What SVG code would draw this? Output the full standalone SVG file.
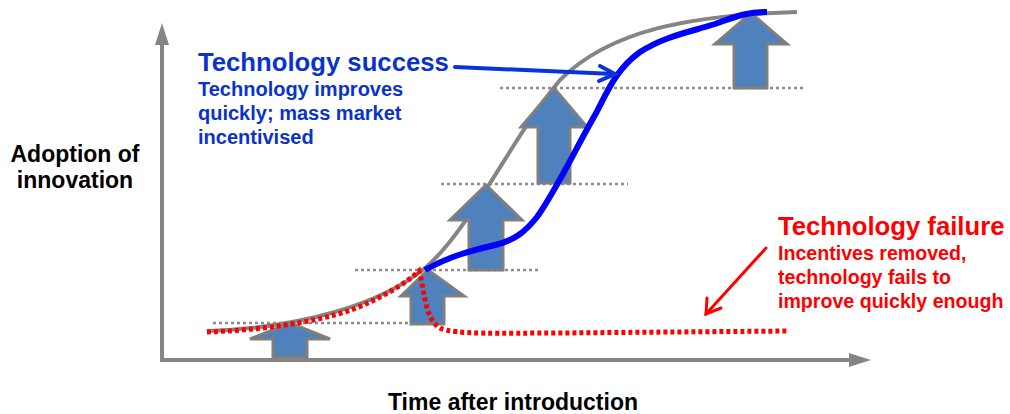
<svg xmlns="http://www.w3.org/2000/svg" width="1010" height="414" viewBox="0 0 1010 414">
  <defs>
    <style>
      .axis { stroke: #858585; stroke-width: 4; fill: none; }
      .axis-head { fill: #858585; }
      .level { stroke: #8c8c8c; stroke-width: 2.5; stroke-dasharray: 3 3; fill: none; }
      .step { fill: #4f81bd; stroke: #7f7f7f; stroke-width: 3; stroke-linejoin: miter; }
      .trend { stroke: #858585; stroke-width: 4; fill: none; }
      .success { stroke: #0000ff; stroke-width: 6; fill: none; stroke-linecap: butt; }
      .failure { stroke: #ff0000; stroke-width: 5; fill: none; stroke-dasharray: 4 3; }
      .lbl { font-family: "Liberation Sans", Arial, sans-serif; font-weight: bold; }
      .axis-lbl { fill: #000000; font-size: 23px; }
      .blue-t { fill: #0a33cc; }
      .red-t { fill: #ff0000; }
    </style>
  </defs>

  <!-- axes -->
  <g id="axes">
    <path class="axis" d="M162,44 V360 H850"/>
    <path class="axis-head" d="M162,23 L169,45 L155,45 Z"/>
    <path class="axis-head" d="M871,360 L849,353 L849,367 Z"/>
  </g>

  <!-- dotted performance levels -->
  <g id="levels">
    <line class="level" x1="213" y1="323" x2="410" y2="323"/>
    <line class="level" x1="355" y1="270" x2="540" y2="270"/>
    <line class="level" x1="441" y1="184" x2="628" y2="184"/>
    <line class="level" x1="500" y1="88" x2="804" y2="88"/>
  </g>

  <!-- expected S-curve -->
  <g id="s-curve">
    <path class="trend" d="M207,331 C300,328 380,305 425,268 C470,230 510,140 560,80 C610,30 690,15 797,12"/>
  </g>

  <!-- improvement steps -->
  <g id="step-1"><path class="step" d="M290,323 L330,339 L307,339 L307,357 L273,357 L273,339 L250,339 Z"/></g>
  <g id="step-2"><path class="step" d="M428,270 L464,296 L444,296 L444,324 L411,324 L411,296 L401,296 Z"/></g>
  <g id="step-3"><path class="step" d="M486,185 L522,220 L503,220 L503,270 L469,270 L469,220 L450,220 Z"/></g>
  <g id="step-4"><path class="step" d="M554,88 L587,127 L570,127 L570,183 L538,183 L538,127 L521,127 Z"/></g>
  <g id="step-5"><path class="step" d="M751,13 L787,44 L767,44 L767,88 L734,88 L734,44 L715,44 Z"/></g>

  <!-- outcome curves -->
  <g id="connectors">
    <path class="success" d="M425,270 C450,256 470,251 495,245 C515,240 525,232 537,217 C555,192 575,150 595,115 C607,93 615,70 640,52 C665,36 690,32 715,24 C735,17 745,12 767,12"/>
    <path class="failure" d="M207,332 C260,330 330,322 370,302 C395,290 408,281 419,271 C425,290 424,318 440,328 C455,335 500,333 560,333 L787,331"/>
    <g stroke="#0a33dd" stroke-width="4" fill="none" stroke-linecap="round">
      <line x1="455" y1="67" x2="614" y2="74"/>
      <polyline points="600,66 615,74 599,81"/>
    </g>
    <g stroke="#ff0000" stroke-width="3" fill="none" stroke-linecap="round">
      <line x1="766" y1="248" x2="706" y2="314"/>
      <polyline points="707,298 706,314 721,308"/>
    </g>
  </g>

  <!-- labels -->
  <g id="axis-labels" class="lbl axis-lbl">
    <text x="75" y="162" text-anchor="middle">Adoption of</text>
    <text x="75" y="188" text-anchor="middle">innovation</text>
    <text x="513" y="410" text-anchor="middle">Time after introduction</text>
  </g>

  <g id="success-label" class="lbl blue-t">
    <text x="198" y="71" font-size="25.7">Technology success</text>
    <text x="198" y="96" font-size="20">Technology improves</text>
    <text x="198" y="120" font-size="20">quickly; mass market</text>
    <text x="198" y="144" font-size="20">incentivised</text>
  </g>

  <g id="failure-label" class="lbl red-t">
    <text x="778" y="235" font-size="25.7">Technology failure</text>
    <text x="778" y="260" font-size="19.6">Incentives removed,</text>
    <text x="778" y="284" font-size="19.6">technology fails to</text>
    <text x="778" y="308" font-size="19.6">improve quickly enough</text>
  </g>
</svg>
